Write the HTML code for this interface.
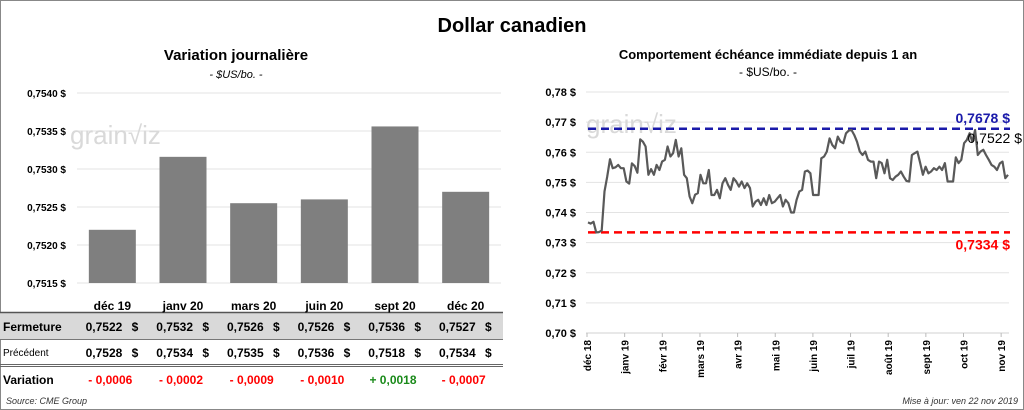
<!DOCTYPE html>
<html><head><meta charset="utf-8"><style>
body{margin:0;background:#fff;}
#wrap{position:relative;width:1024px;height:410px;overflow:hidden;font-family:"Liberation Sans",sans-serif;}
svg text{font-family:"Liberation Sans",sans-serif;}
</style></head><body>
<div id="wrap">
<svg id="svg" width="1024" height="410" xmlns="http://www.w3.org/2000/svg">
<rect x="0.5" y="0.5" width="1023" height="409" fill="#fff" stroke="#888"/>
<text x="512" y="32" text-anchor="middle" font-size="20" font-weight="bold">Dollar canadien</text>
<text x="236" y="60" text-anchor="middle" font-size="15" font-weight="bold">Variation  journalière</text>
<text x="236" y="78" text-anchor="middle" font-size="11" font-style="italic">- $US/bo. -</text>
<text x="768" y="59" text-anchor="middle" font-size="13" font-weight="bold">Comportement échéance immédiate depuis 1 an</text>
<text x="768" y="76" text-anchor="middle" font-size="12">- $US/bo. -</text>
<g id="bars"></g><g id="table"></g><g id="line"></g>
<text x="6" y="404" font-size="9" font-style="italic" fill="#333">Source: CME Group</text>
<text x="1018" y="404" text-anchor="end" font-size="9" font-style="italic" fill="#333">Mise à jour: ven 22 nov 2019</text>
</svg>
</div>
<script>
const barCategories=["déc 19","janv 20","mars 20","juin 20","sept 20","déc 20"];
const barValues=[0.7522,0.75316,0.75255,0.7526,0.75356,0.7527];
const barTicks=["0,7515 $","0,7520 $","0,7525 $","0,7530 $","0,7535 $","0,7540 $"];
const closeLabels=["0,7522","0,7532","0,7526","0,7526","0,7536","0,7527"];
const prevLabels=["0,7528","0,7534","0,7535","0,7536","0,7518","0,7534"];
const varLabels=["- 0,0006","- 0,0002","- 0,0009","- 0,0010","+ 0,0018","- 0,0007"];
const lineTicks=["0,70 $","0,71 $","0,72 $","0,73 $","0,74 $","0,75 $","0,76 $","0,77 $","0,78 $"];
const monthLabels=["déc 18","janv 19","févr 19","mars 19","avr 19","mai 19","juin 19","juil 19","août 19","sept 19","oct 19","nov 19"];
const lineValues=[0.7367,0.7363,0.7369,0.7334,0.7335,0.7340,0.7470,0.7519,0.7577,0.7547,0.7550,0.7558,0.7547,0.7547,0.7503,0.7496,0.7563,0.7554,0.7532,0.7643,0.7635,0.7619,0.7525,0.7544,0.7525,0.7558,0.7541,0.7569,0.7575,0.7619,0.7586,0.7597,0.7641,0.7586,0.7613,0.7525,0.7514,0.7453,0.7431,0.7459,0.7464,0.7525,0.7497,0.7497,0.7541,0.7458,0.7458,0.7475,0.7447,0.7497,0.7514,0.7492,0.7475,0.7514,0.7503,0.7486,0.7503,0.7481,0.7497,0.7481,0.7420,0.7436,0.7442,0.7425,0.7447,0.7425,0.7458,0.7431,0.7436,0.7447,0.7458,0.7420,0.7442,0.7431,0.7400,0.7400,0.7442,0.7470,0.7475,0.7536,0.7539,0.7530,0.7458,0.7458,0.7458,0.7580,0.7586,0.7602,0.7646,0.7624,0.7613,0.7652,0.7635,0.7630,0.7663,0.7672,0.7674,0.7657,0.7635,0.7602,0.7591,0.7602,0.7575,0.7569,0.7569,0.7514,0.7569,0.7564,0.7530,0.7575,0.7514,0.7508,0.7519,0.7525,0.7536,0.7519,0.7505,0.7503,0.7591,0.7597,0.7602,0.7564,0.7525,0.7552,0.7530,0.7536,0.7547,0.7541,0.7552,0.7541,0.7564,0.7503,0.7503,0.7503,0.7583,0.7564,0.7575,0.7630,0.7641,0.7663,0.7635,0.7674,0.7591,0.7602,0.7608,0.7591,0.7575,0.7558,0.7552,0.7541,0.7563,0.7569,0.7514,0.7525];
const NS="http://www.w3.org/2000/svg";
function mk(parent,tag,attrs,text){const e=document.createElementNS(NS,tag);for(const k in attrs)e.setAttribute(k,attrs[k]);if(text!==undefined)e.textContent=text;parent.appendChild(e);return e;}
// bar chart
const bx0=77,bx1=501,by0=283,by1=93,bmin=0.7515,bmax=0.7540;
const bY=v=>by0-(v-bmin)/(bmax-bmin)*(by0-by1);
const bw=(bx1-bx0)/barCategories.length;
const bX=i=>bx0+bw*(i+0.5);
const gb=document.getElementById('bars');
barTicks.forEach((t,i)=>{const v=bmin+i*0.0005;const y=bY(v);
 const l=mk(gb,'line',{x1:bx0,x2:bx1,y1:y,y2:y,stroke:'#e3e3e3'});
 
 
 const tx=mk(gb,'text',{x:66,y:y+4,'text-anchor':'end','font-size':10,'font-weight':'bold'},t);
 
 });
mk(gb,'text',{x:70,y:144,'font-size':26,fill:'#d9d9d9'},'grain\u221Aiz');
barValues.forEach((v,i)=>{const y=bY(v);
 const r=mk(gb,'rect',{x:bX(i)-23.5,y:y,width:47,height:by0-y,fill:'#7f7f7f'});
 
 });
// table
const gt=document.getElementById('table');
mk(gt,'rect',{x:0,y:313,width:503,height:26,fill:'#d9d9d9'});
mk(gt,'line',{x1:0,x2:503,y1:312.5,y2:312.5,stroke:'#555',"stroke-width":1.5});
mk(gt,'line',{x1:0,x2:503,y1:339.5,y2:339.5,stroke:'#777'});
mk(gt,'line',{x1:0,x2:503,y1:364.5,y2:364.5,stroke:'#666'});
mk(gt,'line',{x1:0,x2:503,y1:366.5,y2:366.5,stroke:'#666'});
mk(gt,'text',{x:3,y:331,'font-size':12,'font-weight':'bold'},'Fermeture');
mk(gt,'text',{x:3,y:356,'font-size':10},'Précédent');
mk(gt,'text',{x:3,y:384,'font-size':12,'font-weight':'bold'},'Variation');
barCategories.forEach((c,i)=>{const x=bX(i);
 const a=mk(gt,'text',{x:x,y:310,'text-anchor':'middle','font-size':12,'font-weight':'bold'},c);
 
 
 const b=mk(gt,'text',{x:x+10,y:331,'text-anchor':'end','font-size':12,'font-weight':'bold'},closeLabels[i]);
 
 
 mk(gt,'text',{x:x+26,y:331,'text-anchor':'end','font-size':12,'font-weight':'bold'},'$');
 const p=mk(gt,'text',{x:x+10,y:357,'text-anchor':'end','font-size':12,'font-weight':'bold'},prevLabels[i]);
 
 
 mk(gt,'text',{x:x+26,y:357,'text-anchor':'end','font-size':12,'font-weight':'bold'},'$');
 const vv=mk(gt,'text',{x:x-2,y:384,'text-anchor':'middle','font-size':12,'font-weight':'bold',fill:varLabels[i][0]=='+'?'#1a8a1a':'#ff0000'},varLabels[i]);
 
 });
// line chart
const lx0=588,lx1=1008,ly0=333,ly1=92,lmin=0.70,lmax=0.78;
const lY=v=>ly0-(v-lmin)/(lmax-lmin)*(ly0-ly1);
const lX=i=>lx0+i/(lineValues.length-1)*(lx1-lx0);
const gl=document.getElementById('line');
lineTicks.forEach((t,i)=>{const y=lY(lmin+i*0.01);
 const l=mk(gl,'line',{x1:586,x2:1009,y1:y,y2:y,stroke:i==0?'#d0d0d0':'#e3e3e3'});
 
 
 const tx=mk(gl,'text',{x:576,y:y+4,'text-anchor':'end','font-size':11,'font-weight':'bold'},t);
 
 });
mk(gl,'text',{x:586,y:133,'font-size':26,fill:'#d9d9d9'},'grain\u221Aiz');
monthLabels.forEach((m,i)=>{const x=587+i*37.65;
 mk(gl,'line',{x1:x,x2:x,y1:333,y2:337,stroke:'#bbb'});
 const tx=mk(gl,'text',{x:0,y:0,'text-anchor':'end','font-size':10,'font-weight':'bold',transform:`translate(${x+4},340) rotate(-90)`},m);
 
 });
const maxV=0.7678,minV=0.7334;
const hl=mk(gl,'line',{x1:588,x2:1010,y1:lY(maxV),y2:lY(maxV),stroke:'#1a1aaa','stroke-width':2.5,'stroke-dasharray':'8,5'});


const ll=mk(gl,'line',{x1:588,x2:1010,y1:lY(minV),y2:lY(minV),stroke:'#ff0000','stroke-width':2.5,'stroke-dasharray':'8,5'});


mk(gl,'text',{x:1010,y:lY(maxV)-6,'text-anchor':'end','font-size':14,'font-weight':'bold',fill:'#1a1aaa'},'0,7678  $');
mk(gl,'text',{x:1010,y:lY(minV)+17,'text-anchor':'end','font-size':14,'font-weight':'bold',fill:'#ff0000'},'0,7334  $');
const pts=lineValues.map((v,i)=>lX(i).toFixed(1)+','+lY(v).toFixed(1)).join(' ');
const pl=mk(gl,'polyline',{points:pts,fill:'none',stroke:'#595959','stroke-width':2.2,'stroke-linejoin':'round'});


mk(gl,'text',{x:1022,y:143,'text-anchor':'end','font-size':14,fill:'#000'},'0,7522 $');
</script>
</body></html>
